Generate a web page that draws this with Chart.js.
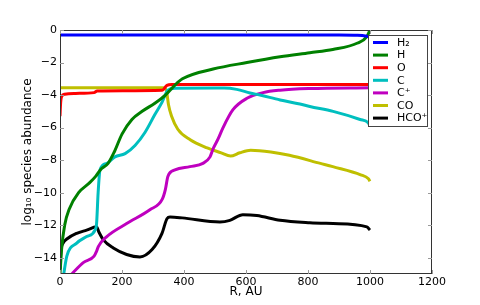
<!DOCTYPE html>
<html>
<head>
<meta charset="utf-8">
<script src="https://cdn.jsdelivr.net/npm/chart.js@4/dist/chart.umd.min.js"></script>
<style>
  html, body { margin: 0; padding: 0; background: #fff; }
</style>
</head>
<body>
<canvas id="abundChart" width="480" height="305"></canvas>
<script>
// species abundances (log10) vs radius in AU
var rH2 = [0, 900, 960, 990, 1000];
var vH2 = [-0.3, -0.3, -0.32, -0.38, -0.42];

var rH = [0, 5, 15, 30, 60, 95, 115, 130, 155, 175, 200, 232, 265, 306, 340, 370, 395, 494, 603, 710, 806, 880, 960, 990, 1000];
var vH = [-15, -13.5, -12, -11, -10, -9.4, -9.0, -8.6, -8.2, -7.5, -6.4, -5.5, -5.0, -4.5, -4.0, -3.4, -3.0, -2.4, -2.0, -1.65, -1.4, -1.2, -0.8, -0.4, 0];

var rO = [0, 2, 5, 15, 50, 110, 120, 330, 345, 360, 1000];
var vO = [-5.3, -4.5, -4.1, -3.95, -3.9, -3.85, -3.75, -3.7, -3.4, -3.35, -3.35];

var rC = [12, 22, 54, 86, 113, 118, 123, 129, 151, 177, 210, 242, 274, 306, 329, 348, 371, 530, 570, 613, 645, 710, 774, 806, 881, 968, 994, 1000];
var vC = [-15, -13.9, -13.1, -12.7, -12.3, -11.9, -10, -8.6, -8.2, -7.8, -7.6, -7.1, -6.3, -5.2, -4.45, -3.7, -3.58, -3.57, -3.65, -3.87, -4.0, -4.3, -4.55, -4.7, -5.0, -5.5, -5.7, -5.9];

var rCp = [38, 75, 110, 118, 124, 151, 215, 290, 330, 340, 348, 371, 419, 461, 484, 494, 510, 526, 558, 603, 655, 710, 806, 1000];
var vCp = [-15, -14.3, -13.9, -13.6, -13.3, -12.7, -11.9, -11.05, -10.4, -9.8, -9.0, -8.6, -8.4, -8.2, -7.8, -7.3, -6.7, -6.0, -4.9, -4.2, -3.85, -3.7, -3.6, -3.55];

var rCO = [0, 330, 340, 345, 350, 360, 380, 420, 475, 520, 550, 580, 615, 680, 740, 840, 880, 970, 995, 1000];
var vCO = [-3.55, -3.55, -3.6, -3.9, -4.6, -5.3, -6.1, -6.75, -7.25, -7.55, -7.75, -7.55, -7.4, -7.5, -7.7, -8.2, -8.4, -8.9, -9.15, -9.3];

var rHCOp = [0, 3, 10, 22, 54, 86, 118, 125, 140, 172, 215, 258, 297, 329, 345, 355, 394, 516, 548, 590, 635, 710, 806, 881, 990, 1000];
var vHCOp = [-14.7, -13.6, -13.1, -12.85, -12.5, -12.3, -12.1, -12.4, -12.9, -13.4, -13.8, -13.95, -13.5, -12.5, -11.6, -11.5, -11.55, -11.8, -11.7, -11.35, -11.4, -11.7, -11.85, -11.9, -12.1, -12.3];

var xTicks = [0, 200, 400, 600, 800, 1000, 1200];
var yTicks = [0, -2, -4, -6, -8, -10, -12, -14];

function pts(rs, vs) {
    return rs.map(function (r, i) { return { x: r, y: vs[i] }; });
}

function series(label, rs, vs, color) {
    return {
        label: label,
        data: pts(rs, vs),
        borderColor: color,
        backgroundColor: color,
        borderWidth: 3,
        pointRadius: 0,
        fill: false,
        cubicInterpolationMode: 'monotone'
    };
}

function minusLabel(v) {
    return v < 0 ? '\u2212' + Math.abs(v) : String(v);
}

// matplotlib-like frame with inward ticks, plus the boxed legend
var frameAndLegend = {
    id: 'frameAndLegend',
    afterDatasetsDraw: function (chart) {
        var ctx = chart.ctx;
        var a = chart.chartArea;
        var xs = chart.scales.x, ys = chart.scales.y;
        ctx.save();
        ctx.strokeStyle = '#333';
        ctx.lineWidth = 1;
        ctx.strokeRect(a.left + 0.5, a.top + 0.5, a.right - a.left - 1, a.bottom - a.top - 1);
        ctx.strokeStyle = '#999';
        ctx.beginPath();
        xTicks.forEach(function (t) {
            var px = Math.round(xs.getPixelForValue(t)) + 0.5;
            ctx.moveTo(px, a.bottom); ctx.lineTo(px, a.bottom - 4);
            ctx.moveTo(px, a.top); ctx.lineTo(px, a.top + 4);
        });
        yTicks.forEach(function (t) {
            var py = Math.round(ys.getPixelForValue(t)) + 0.5;
            ctx.moveTo(a.left, py); ctx.lineTo(a.left + 4, py);
            ctx.moveTo(a.right, py); ctx.lineTo(a.right - 4, py);
        });
        ctx.stroke();

        // legend
        var bx = 368, by = 35, bw = 59, bh = 91;
        ctx.fillStyle = '#fff';
        ctx.fillRect(bx, by, bw, bh);
        ctx.strokeStyle = '#444';
        ctx.strokeRect(bx + 0.5, by + 0.5, bw, bh);
        ctx.font = '11px "DejaVu Sans"';
        ctx.textBaseline = 'middle';
        ctx.textAlign = 'left';
        chart.data.datasets.forEach(function (ds, i) {
            var y = by + 7.5 + i * 12.6;
            ctx.strokeStyle = ds.borderColor;
            ctx.lineWidth = 3;
            ctx.beginPath();
            ctx.moveTo(373, y); ctx.lineTo(388, y);
            ctx.stroke();
            ctx.fillStyle = '#000';
            ctx.fillText(ds.label, 397, y + 0.5);
        });
        ctx.restore();
    }
};

var canvas = document.getElementById('abundChart');
var ctx = canvas.getContext('2d');
window.abundChartInstance = new Chart(ctx, {
    type: 'line',
    data: {
        datasets: [
            series('H\u2082', rH2, vH2, '#0000ff'),
            series('H', rH, vH, '#008000'),
            series('O', rO, vO, '#ff0000'),
            series('C', rC, vC, '#00bfbf'),
            series('C\u207A', rCp, vCp, '#bf00bf'),
            series('CO', rCO, vCO, '#bfbf00'),
            series('HCO\u207A', rHCOp, vHCOp, '#000000')
        ]
    },
    options: {
        responsive: false,
        animation: false,
        devicePixelRatio: 1,
        layout: { padding: { left: 0, top: 30, right: 48, bottom: 0 } },
        plugins: {
            legend: { display: false },
            tooltip: { enabled: false }
        },
        scales: {
            x: {
                type: 'linear',
                min: 0,
                max: 1200,
                grid: { display: false, drawTicks: false },
                border: { display: false },
                afterBuildTicks: function (s) { s.ticks = xTicks.map(function (v) { return { value: v }; }); },
                afterFit: function (s) { s.height = 31; },
                ticks: {
                    color: '#000',
                    padding: 2,
                    maxRotation: 0,
                    font: { family: 'DejaVu Sans', size: 11 },
                    callback: function (v) { return String(v); }
                },
                title: {
                    display: true,
                    text: 'R, AU',
                    color: '#000',
                    padding: { top: 0, bottom: 6 },
                    font: { family: 'DejaVu Sans', size: 12 }
                }
            },
            y: {
                type: 'linear',
                min: -15,
                max: 0,
                grid: { display: false, drawTicks: false },
                border: { display: false },
                afterBuildTicks: function (s) { s.ticks = yTicks.map(function (v) { return { value: v }; }); },
                afterFit: function (s) { s.width = 60; },
                ticks: {
                    color: '#000',
                    padding: 3,
                    font: { family: 'DejaVu Sans', size: 11 },
                    callback: function (v) { return minusLabel(v); }
                },
                title: {
                    display: true,
                    text: 'log\u2081\u2080 species abundance',
                    color: '#000',
                    padding: { top: 21, bottom: 0 },
                    font: { family: 'DejaVu Sans', size: 12 }
                }
            }
        }
    },
    plugins: [frameAndLegend]
});
</script>
</body>
</html>
